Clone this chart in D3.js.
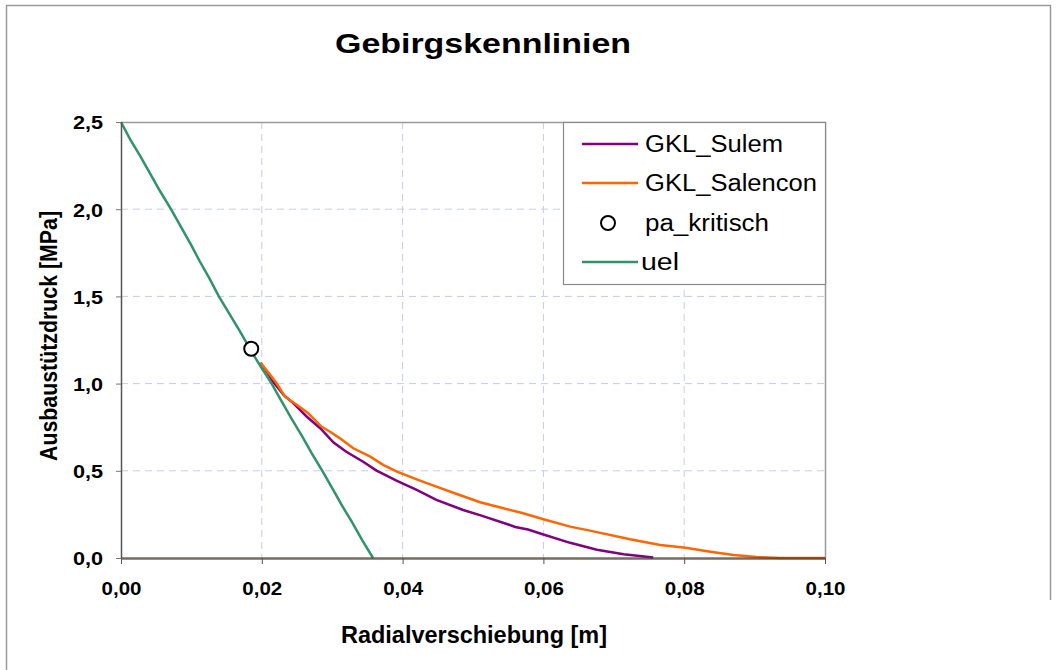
<!DOCTYPE html>
<html>
<head>
<meta charset="utf-8">
<script src="https://cdn.jsdelivr.net/npm/d3@7/dist/d3.min.js"></script>
<style>
  html, body { margin: 0; padding: 0; background: #fff; }
  svg { display: block; font-family: "Liberation Sans", Arial, sans-serif; }
</style>
</head>
<body>
<svg id="chart" width="1056" height="670"></svg>
<script>
// Gebirgskennlinien: Ausbaustützdruck p [MPa] über Radialverschiebung u [m]
const xTicks = [0, 0.02, 0.04, 0.06, 0.08, 0.10];
const yTicks = [0, 0.5, 1.0, 1.5, 2.0, 2.5];

// elastische Verschiebung
const uelU = [0.0000, 0.0013, 0.0028, 0.0042, 0.0056, 0.0071, 0.0085, 0.0099, 0.0112, 0.0126,
              0.0139, 0.0154, 0.0169, 0.0183, 0.0198, 0.0214, 0.0228, 0.0242, 0.0257, 0.0271,
              0.0286, 0.0300, 0.0314, 0.0329, 0.0343, 0.0358];
const uelP = [2.5, 2.4, 2.3, 2.2, 2.1, 2.0, 1.9, 1.8, 1.7, 1.6,
              1.5, 1.4, 1.3, 1.2, 1.1, 1.0, 0.9, 0.8, 0.7, 0.6,
              0.5, 0.4, 0.3, 0.2, 0.1, 0.0];

// GKL nach Sulem
const sulemU = [0.0198, 0.0207, 0.0216, 0.0231, 0.0245, 0.0264, 0.0283, 0.0302, 0.0320, 0.0344,
                0.0363, 0.0392, 0.0420, 0.0448, 0.0486, 0.0512, 0.0548, 0.0560, 0.0578, 0.0600,
                0.0638, 0.0676, 0.0714, 0.0756];
const sulemP = [1.120, 1.070, 1.011, 0.935, 0.887, 0.810, 0.744, 0.662, 0.609, 0.552,
                0.501, 0.442, 0.390, 0.333, 0.275, 0.243, 0.195, 0.178, 0.163, 0.135,
                0.087, 0.047, 0.021, 0.003];

// GKL nach Salencon
const salenconU = [0.0198, 0.0210, 0.0221, 0.0233, 0.0250, 0.0266, 0.0285, 0.0297, 0.0311, 0.0330,
                   0.0354, 0.0373, 0.0392, 0.0420, 0.0448, 0.0477, 0.0510, 0.0543, 0.0570, 0.0600,
                   0.0638, 0.0666, 0.0723, 0.0766, 0.0802, 0.0837, 0.0870, 0.0903, 0.0936, 0.1000];
const salenconP = [1.120, 1.060, 1.002, 0.925, 0.877, 0.830, 0.752, 0.724, 0.686, 0.629,
                   0.581, 0.533, 0.495, 0.451, 0.409, 0.367, 0.320, 0.285, 0.258, 0.222,
                   0.180, 0.157, 0.107, 0.075, 0.059, 0.036, 0.017, 0.006, 0.000, 0.000];

// kritischer Ausbaudruck
const paKritischU = [0.0185];
const paKritischP = [1.2];

const legendLabels = ["GKL_Sulem", "GKL_Salencon", "pa_kritisch", "uel"];
const colors = { sulem: "#800080", salencon: "#ff6600", uel: "#2f9468" };

const svg = d3.select("#chart");
const M = { left: 121, right: 825, top: 122, bottom: 558 };

const x = d3.scaleLinear().domain([0, 0.1]).range([M.left, M.right]);
const y = d3.scaleLinear().domain([0, 2.5]).range([M.bottom, M.top]);

const de = d3.formatLocale({ decimal: ",", thousands: ".", grouping: [3], currency: ["", "€"] });
const fx = de.format(".2f"), fy = de.format(".1f");

// stretch a text element horizontally by a factor
function stretch(sel, k) {
  sel.each(function () {
    const w = this.getComputedTextLength();
    d3.select(this).attr("textLength", w * k).attr("lengthAdjust", "spacingAndGlyphs");
  });
}

// outer frame
svg.append("path")
  .attr("d", "M6.5,670 V5.5 H1050.5 V600")
  .attr("fill", "none").attr("stroke", "#9a9a9a").attr("stroke-width", 1.5);

// title
svg.append("text")
  .attr("x", 483).attr("y", 53)
  .attr("text-anchor", "middle")
  .attr("font-size", 28).attr("font-weight", "bold")
  .text("Gebirgskennlinien")
  .attr("textLength", 296).attr("lengthAdjust", "spacingAndGlyphs");

// grid
const grid = svg.append("g").attr("stroke", "#c9cbe9").attr("stroke-width", 1).attr("stroke-dasharray", "7,5");
grid.selectAll("line.v").data(xTicks.slice(1, -1)).join("line")
  .attr("x1", d => x(d)).attr("x2", d => x(d))
  .attr("y1", M.top).attr("y2", M.bottom);
grid.selectAll("line.h").data(yTicks.slice(1, -1)).join("line")
  .attr("x1", M.left).attr("x2", M.right)
  .attr("y1", d => y(d)).attr("y2", d => y(d));

// plot frame (top, right)
svg.append("path")
  .attr("d", `M${M.left},${M.top + 0.5} H${M.right + 0.5} V${M.bottom}`)
  .attr("fill", "none").attr("stroke", "#9a9a9a").attr("stroke-width", 1.5);

// series
const line = d3.line().x(d => x(d[0])).y(d => y(d[1]));
const zip = (a, b) => a.map((v, i) => [v, b[i]]);

svg.append("path").datum(zip(sulemU, sulemP)).attr("d", line)
  .attr("fill", "none").attr("stroke", colors.sulem).attr("stroke-width", 2.5);
svg.append("path").datum(zip(salenconU, salenconP)).attr("d", line)
  .attr("fill", "none").attr("stroke", colors.salencon).attr("stroke-width", 2.5);
svg.append("path").datum(zip(uelU, uelP)).attr("d", line)
  .attr("fill", "none").attr("stroke", colors.uel).attr("stroke-width", 2.5);

// axes
const xAxis = svg.append("g").attr("transform", `translate(0,${M.bottom})`)
  .call(d3.axisBottom(x).tickValues(xTicks).tickFormat(fx).tickSize(6).tickSizeOuter(0).tickPadding(18));
xAxis.select(".domain").attr("stroke", "#4a3a30").attr("stroke-width", 2.5).attr("stroke-opacity", 0.75);
xAxis.selectAll(".tick line").attr("stroke", "#555");
xAxis.selectAll(".tick text").attr("font-size", 19).attr("font-weight", "bold")
  .attr("font-family", "Liberation Sans, Arial, sans-serif").attr("fill", "#000")
  .call(s => stretch(s, 1.08));

const yAxis = svg.append("g").attr("transform", `translate(${M.left},0)`)
  .call(d3.axisLeft(y).tickValues(yTicks).tickFormat(fy).tickSize(5).tickSizeOuter(0).tickPadding(13));
yAxis.select(".domain").attr("stroke", "#555").attr("stroke-width", 1.5);
yAxis.selectAll(".tick line").attr("stroke", "#777");
yAxis.selectAll(".tick text").attr("font-size", 19).attr("font-weight", "bold")
  .attr("font-family", "Liberation Sans, Arial, sans-serif").attr("fill", "#000")
  .attr("dy", "0.36em")
  .call(s => stretch(s, 1.14));

// axis titles
svg.append("text")
  .attr("x", 474).attr("y", 643)
  .attr("text-anchor", "middle")
  .attr("font-size", 23).attr("font-weight", "bold")
  .text("Radialverschiebung [m]")
  .attr("textLength", 266).attr("lengthAdjust", "spacingAndGlyphs");

svg.append("text")
  .attr("transform", "translate(57,336) rotate(-90)")
  .attr("text-anchor", "middle")
  .attr("font-size", 23).attr("font-weight", "bold")
  .text("Ausbaustützdruck [MPa]")
  .attr("textLength", 250).attr("lengthAdjust", "spacingAndGlyphs");

// critical support pressure marker
svg.selectAll("circle.pa").data(zip(paKritischU, paKritischP)).join("circle")
  .attr("class", "pa")
  .attr("cx", d => x(d[0])).attr("cy", d => y(d[1])).attr("r", 7)
  .attr("fill", "#fff").attr("stroke", "#000").attr("stroke-width", 2);

// legend
const lg = svg.append("g");
lg.append("rect").attr("x", 563.5).attr("y", 122.5).attr("width", 262).attr("height", 162)
  .attr("fill", "#fff").attr("stroke", "#8a8a8a").attr("stroke-width", 1.2);
const rows = [
  { label: legendLabels[0], type: "line", color: colors.sulem, cy: 144, w: 138 },
  { label: legendLabels[1], type: "line", color: colors.salencon, cy: 183, w: 172 },
  { label: legendLabels[2], type: "marker", cy: 223, w: 124 },
  { label: legendLabels[3], type: "line", color: colors.uel, cy: 262, w: 38 }
];
rows.forEach(r => {
  if (r.type === "line") {
    lg.append("line").attr("x1", 582).attr("x2", 638).attr("y1", r.cy).attr("y2", r.cy)
      .attr("stroke", r.color).attr("stroke-width", 2.5);
  } else {
    lg.append("circle").attr("cx", 608).attr("cy", r.cy).attr("r", 7)
      .attr("fill", "#fff").attr("stroke", "#000").attr("stroke-width", 2);
  }
  lg.append("text").attr("x", r.label === "uel" ? 641 : 645).attr("y", r.cy + 8)
    .attr("font-size", 23).attr("fill", "#000")
    .text(r.label)
    .attr("textLength", r.w).attr("lengthAdjust", "spacingAndGlyphs");
});
</script>
</body>
</html>
